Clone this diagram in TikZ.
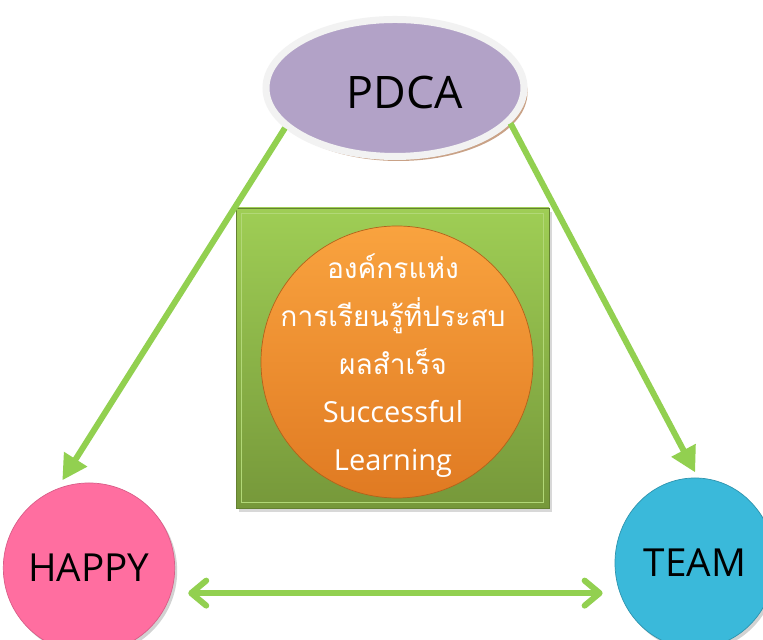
\documentclass[tikz,border=0pt]{standalone}
\usepackage{fontspec}
\setmainfont{Open Sans}
\newfontfamily\thaifont[Script=Thai]{Loma}
\usepackage{tikz}
\usetikzlibrary{shapes,arrows.meta,positioning,calc,shadows}

\definecolor{arrowgreen}{HTML}{92D050}
\definecolor{pdcapurple}{HTML}{B2A2C7}
\definecolor{pdcaring}{HTML}{F2F2F2}
\definecolor{pdcashade}{HTML}{C9A287}
\definecolor{boxlight}{HTML}{9FCE55}
\definecolor{boxdark}{HTML}{76983A}
\definecolor{orangelight}{HTML}{F9A33F}
\definecolor{orangedark}{HTML}{E07A22}
\definecolor{happypink}{HTML}{FF6EA0}
\definecolor{teamblue}{HTML}{3AB9DA}

\tikzset{
    bubble/.style={ellipse, inner sep=0pt, minimum width=3.2cm, minimum height=3.4cm,
        font=\fontsize{22}{26}\selectfont,
        drop shadow={opacity=0.35, shadow xshift=0.05cm, shadow yshift=-0.06cm}},
    linkarrow/.style={line width=0.12cm, arrowgreen, -{Triangle[length=0.5cm, width=0.52cm]}},
    bothway/.style={line width=0.12cm, arrowgreen, line cap=round,
        {Straight Barb[length=0.3cm, width=0.5cm, round]}-{Straight Barb[length=0.3cm, width=0.5cm, round]}}
}

\begin{document}
\begin{tikzpicture}
    \useasboundingbox [fill=white] (0,0) rectangle (15.26,12.8);

    % Centre box
    \node [rectangle, minimum width=6.26cm, minimum height=6cm, top color=boxlight, bottom color=boxdark,
        draw=boxdark!85!black, line width=0.4pt,
        drop shadow={opacity=0.3, shadow xshift=0.06cm, shadow yshift=-0.08cm}] (box) at (7.85, 5.64) {};
    \draw [boxlight!80!white, line width=0.6pt] ($(box.north west)+(0.12,-0.12)$) rectangle ($(box.south east)+(-0.12,0.12)$);
    \node [circle, minimum size=5.44cm, inner sep=0pt, top color=orangelight, bottom color=orangedark,
        draw=orangedark!80!black, line width=0.4pt] (goal) at (7.94, 5.56) {};
    \node [text=white, text width=5.2cm, align=center, font=\thaifont\fontsize{16}{27.3}\selectfont] (goaltext) at (7.86, 5.48)
        {องค์กรแห่ง\\ การเรียนรู้ที่ประสบ\\ ผลสำเร็จ\\ {\rmfamily\fontsize{16.5}{27.3}\selectfont Successful}\\ {\rmfamily\fontsize{16.5}{27.3}\selectfont Learning}};

    % PDCA
    \node [ellipse, inner sep=0pt, minimum width=5.16cm, minimum height=2.74cm, fill=pdcapurple,
        draw=pdcaring, line width=0.14cm, font=\fontsize{25.5}{30}\selectfont, text height=0.84cm, text depth=0cm,
        drop shadow={fill=pdcashade, opacity=1, shadow xshift=0.07cm, shadow yshift=-0.09cm}] (pdca) at (7.9, 11.04) {\hspace*{0.4cm}PDCA};

    % HAPPY and TEAM
    \node [bubble, fill=happypink, draw=happypink!85!black, line width=0.4pt] (happy) at (1.78, 1.44) {HAPPY};
    \node [bubble, fill=teamblue, draw=teamblue!80!black, line width=0.4pt] (team) at (13.9, 1.54) {TEAM};

    % Arrows
    \draw [linkarrow, shorten >=0.2cm] (pdca.200) -- (happy.112);
    \draw [linkarrow, shorten >=0.12cm] (pdca.343) -- (team.88);
    \draw [bothway, shorten <=0.34cm, shorten >=0.24cm] (happy.-17) -- (happy.-17 -| team.west);
\end{tikzpicture}
\end{document}
